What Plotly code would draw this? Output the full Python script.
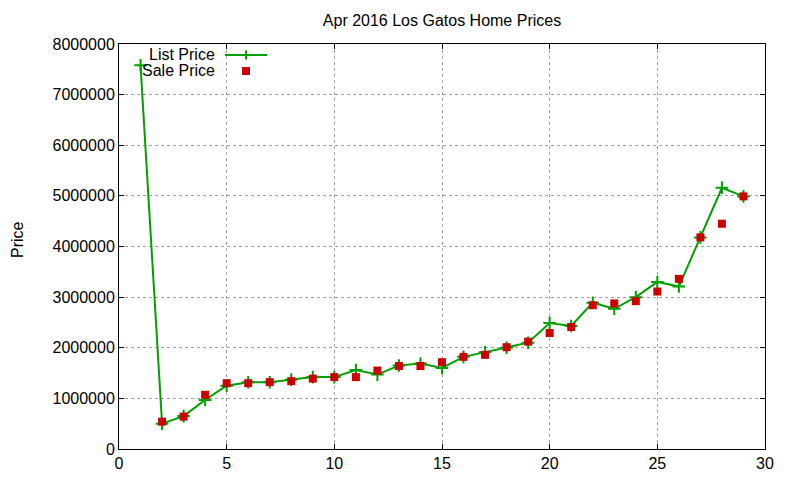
import plotly.graph_objects as go

# Los Gatos home prices, April 2016 (one sale per index)
sale_index = list(range(1, 30))
list_price = [
    7580000, 500000, 650000, 970000, 1250000, 1320000, 1320000, 1370000, 1420000, 1420000,
    1560000, 1470000, 1650000, 1690000, 1600000, 1820000, 1910000, 2000000, 2100000, 2490000,
    2430000, 2890000, 2770000, 3000000, 3300000, 3210000, 4180000, 5160000, 4990000,
]
sale_price = [
    None, 540000, 640000, 1070000, 1300000, 1300000, 1320000, 1340000, 1390000, 1420000,
    1420000, 1550000, 1640000, 1640000, 1715000, 1820000, 1860000, 2010000, 2120000, 2290000,
    2410000, 2840000, 2875000, 2920000, 3110000, 3360000, 4180000, 4450000, 4990000,
]

GREEN = "#00a000"
RED = "#cc0000"
FONT = "Liberation Sans, Arial, sans-serif"

# page has an 8px body margin, so the figure is 792x472 and shifted
W, H = 792, 472
L, R, T, B = 111, 35, 36, 31
PW, PH = W - L - R, H - T - B


def px(x):
    # window x pixel -> paper x
    return (x - 8 - L) / PW


def py(y):
    # window y pixel -> paper y
    return 1 - (y - 8 - T) / PH


fig = go.Figure()

fig.add_trace(
    go.Scatter(
        x=sale_index,
        y=list_price,
        mode="lines+markers",
        name="List Price",
        line=dict(color=GREEN, width=2),
        marker=dict(symbol="cross-thin", size=9, line=dict(color=GREEN, width=2)),
    )
)
fig.add_trace(
    go.Scatter(
        x=sale_index,
        y=sale_price,
        mode="markers",
        name="Sale Price",
        marker=dict(symbol="square", size=8, color=RED),
    )
)

axis_common = dict(
    automargin=False,
    showline=True,
    linecolor="black",
    linewidth=1,
    mirror="ticks",
    ticks="inside",
    ticklen=5,
    tickcolor="black",
    showgrid=True,
    gridcolor="#a0a0a0",
    griddash="dot",
    gridwidth=1,
    zeroline=False,
    tickfont=dict(size=16, color="black", family=FONT),
)

fig.update_xaxes(range=[0, 30], dtick=5, tick0=0, **axis_common)
fig.update_yaxes(range=[0, 8000000], dtick=1000000, tick0=0, tickformat="d", **axis_common)

# y axis label
fig.add_annotation(
    x=px(17), y=py(240), xref="paper", yref="paper",
    text="Price", textangle=-90, showarrow=False,
    xanchor="center", yanchor="middle",
    font=dict(size=16, color="black", family=FONT),
)

# gnuplot-style key: text right-aligned, sample to the right
key_rows = [("List Price", 55), ("Sale Price", 71)]
for text, ypx in key_rows:
    fig.add_annotation(
        x=px(217), y=py(ypx), xref="paper", yref="paper",
        text=text, showarrow=False, xanchor="right", yanchor="middle",
        font=dict(size=16, color="black", family=FONT),
    )
fig.add_shape(
    type="line", xref="paper", yref="paper",
    x0=px(225), x1=px(267), y0=py(55), y1=py(55),
    line=dict(color=GREEN, width=2),
)
fig.add_shape(
    type="line", xref="paper", yref="paper",
    x0=px(246), x1=px(246), y0=py(50.5), y1=py(59.5),
    line=dict(color=GREEN, width=2),
)
fig.add_shape(
    type="rect", xref="paper", yref="paper",
    x0=px(242), x1=px(250), y0=py(67), y1=py(75),
    line=dict(width=0), fillcolor=RED,
)

fig.update_layout(
    width=W,
    height=H,
    margin=dict(l=L, r=R, t=T, b=B, autoexpand=False),
    paper_bgcolor="white",
    plot_bgcolor="white",
    showlegend=False,
    font=dict(family=FONT, size=16, color="black"),
    title=dict(
        text="Apr 2016 Los Gatos Home Prices",
        x=(442 - 8) / W, xanchor="center",
        y=1 - (20 - 8) / H, yanchor="middle", yref="container",
        font=dict(size=16, color="black", family=FONT),
    ),
)

fig.write_html("out.html")
